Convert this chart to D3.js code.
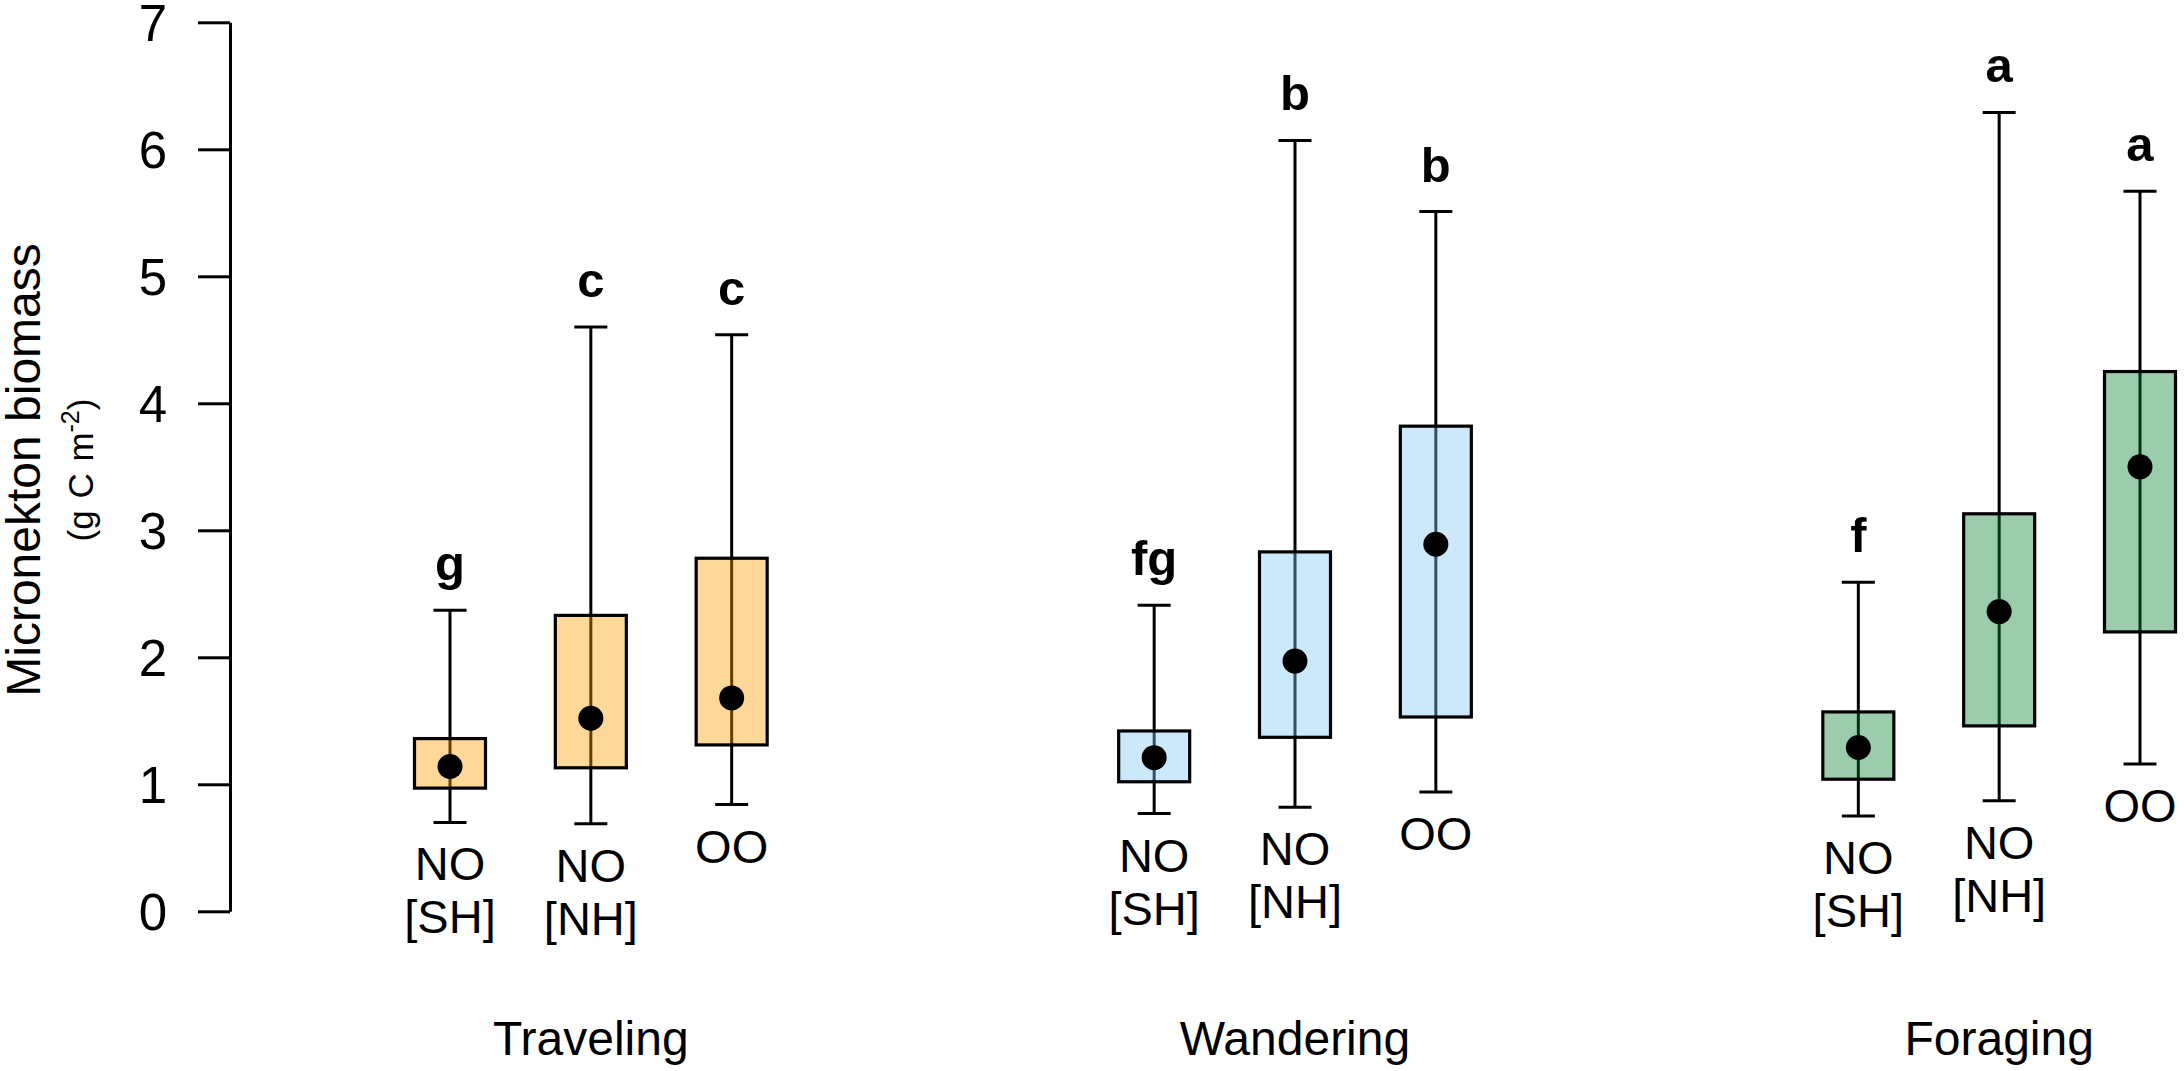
<!DOCTYPE html>
<html>
<head>
<meta charset="utf-8">
<script src="https://cdn.jsdelivr.net/npm/d3@7"></script>
<style>
  body { margin: 0; background: #fff; }
  svg text { font-family: "Liberation Sans", Arial, Helvetica, sans-serif; }
</style>
</head>
<body>
<svg width="2184" height="1071"></svg>
<script>
// The data
var groups = ["Traveling", "Wandering", "Foraging"];
var siteLabels = [["NO", "[SH]"], ["NO", "[NH]"], ["OO"]];
var positions = [1, 2, 3, 6, 7, 8, 11, 12, 13];
var groupOf = [0, 0, 0, 1, 1, 1, 2, 2, 2];
var siteOf = [0, 1, 2, 0, 1, 2, 0, 1, 2];
var whiskerLow  = [0.70, 0.69, 0.84, 0.77, 0.82, 0.94, 0.75, 0.87, 1.16];
var q1          = [0.97, 1.13, 1.31, 1.02, 1.37, 1.53, 1.04, 1.46, 2.20];
var meanVal     = [1.14, 1.52, 1.68, 1.21, 1.97, 2.89, 1.29, 2.36, 3.50];
var q3          = [1.36, 2.33, 2.78, 1.42, 2.83, 3.82, 1.57, 3.13, 4.25];
var whiskerHigh = [2.37, 4.60, 4.54, 2.41, 6.07, 5.51, 2.59, 6.29, 5.67];
var letters     = ["g", "c", "c", "fg", "b", "b", "f", "a", "a"];
var yTicks = [0, 1, 2, 3, 4, 5, 6, 7];

var groupColor = ["#fc9d00", "#7fc8f7", "#058232"];

var svg = d3.select("svg");

// Scales
var y = d3.scaleLinear().domain([0, 7]).range([911.3, 22.3]);
var x = d3.scaleLinear().domain([1, 13]).range([450, 2140]);

var boxHalf = 35.5, capHalf = 16.5;

// Y axis
var yAxis = svg.append("g")
    .attr("transform", "translate(230,0)")
    .call(d3.axisLeft(y).tickValues(yTicks).tickSize(32).tickSizeOuter(0).tickPadding(31).tickFormat(d3.format("d")));
yAxis.select(".domain").attr("stroke", "black").attr("stroke-width", 3);
yAxis.selectAll(".tick line").attr("stroke", "black").attr("stroke-width", 3);
yAxis.selectAll(".tick text")
    .style("font-size", "51px")
    .attr("fill", "black")
    .attr("dy", "0.36em");

// Y axis title
svg.append("text")
    .attr("transform", "translate(40,470) rotate(-90)")
    .attr("text-anchor", "middle")
    .style("font-size", "48px")
    .text("Micronekton biomass");

var sub = svg.append("text")
    .attr("transform", "translate(93,470) rotate(-90)")
    .attr("text-anchor", "middle")
    .style("font-size", "35px")
    .attr("word-spacing", "2px");
sub.append("tspan").text("(g C m");
sub.append("tspan").attr("dy", "-14").style("font-size", "25px").text("-2");
sub.append("tspan").attr("dy", "14").text(")");

var data = positions.map(function(p, i){
  return {pos: p, g: groupOf[i], s: siteOf[i], lo: whiskerLow[i], q1: q1[i],
          m: meanVal[i], q3: q3[i], hi: whiskerHigh[i], letter: letters[i]};
});

var box = svg.selectAll("g.box")
  .data(data)
  .enter()
  .append("g")
    .attr("class", "box");

// whisker line through the box
box.append("line")
    .attr("x1", function(d){ return x(d.pos) })
    .attr("x2", function(d){ return x(d.pos) })
    .attr("y1", function(d){ return y(d.lo) })
    .attr("y2", function(d){ return y(d.hi) })
    .attr("stroke", "black").attr("stroke-width", 3);

// caps
box.append("line")
    .attr("x1", function(d){ return x(d.pos) - capHalf })
    .attr("x2", function(d){ return x(d.pos) + capHalf })
    .attr("y1", function(d){ return y(d.hi) })
    .attr("y2", function(d){ return y(d.hi) })
    .attr("stroke", "black").attr("stroke-width", 3);
box.append("line")
    .attr("x1", function(d){ return x(d.pos) - capHalf })
    .attr("x2", function(d){ return x(d.pos) + capHalf })
    .attr("y1", function(d){ return y(d.lo) })
    .attr("y2", function(d){ return y(d.lo) })
    .attr("stroke", "black").attr("stroke-width", 3);

// box
box.append("rect")
    .attr("x", function(d){ return x(d.pos) - boxHalf })
    .attr("width", boxHalf * 2)
    .attr("y", function(d){ return y(d.q3) })
    .attr("height", function(d){ return y(d.q1) - y(d.q3) })
    .attr("fill", function(d){ return groupColor[d.g] })
    .attr("fill-opacity", 0.4)
    .attr("stroke", "black")
    .attr("stroke-width", 3.2);

// mean dot
box.append("circle")
    .attr("cx", function(d){ return x(d.pos) })
    .attr("cy", function(d){ return y(d.m) })
    .attr("r", 12.5)
    .attr("fill", "black");

// significance letters
box.append("text")
    .attr("x", function(d){ return x(d.pos) })
    .attr("y", function(d){ return y(d.hi) - 30 })
    .attr("text-anchor", "middle")
    .style("font-size", "49px")
    .style("font-weight", "bold")
    .text(function(d){ return d.letter });

// site labels under each box
box.each(function(d){
  var t = d3.select(this).append("text")
      .attr("text-anchor", "middle")
      .style("font-size", "47px");
  siteLabels[d.s].forEach(function(line, k){
    t.append("tspan")
      .attr("x", x(d.pos))
      .attr("y", y(d.lo) + 58 + k * 53)
      .text(line);
  });
});

// group labels
svg.selectAll("text.group")
  .data(groups)
  .enter()
  .append("text")
    .attr("class", "group")
    .attr("x", function(d, i){ return x(positions[i * 3 + 1]) })
    .attr("y", 1055)
    .attr("text-anchor", "middle")
    .style("font-size", "48px")
    .text(function(d){ return d });
</script>
</body>
</html>
